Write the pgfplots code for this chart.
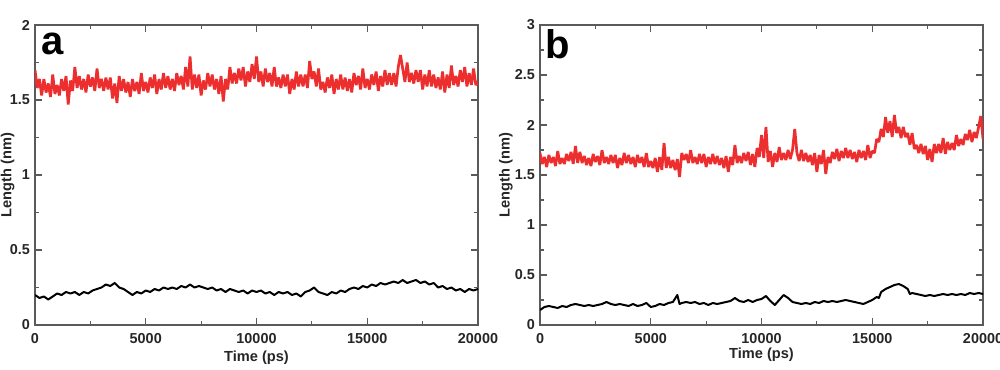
\documentclass[border=0pt]{standalone}
\usepackage{pgfplots}
\pgfplotsset{compat=1.18}
\usepackage{fontspec}
\setmainfont{Liberation Sans}
\definecolor{myred}{RGB}{236,46,46}
\definecolor{axgray}{RGB}{90,90,90}
\pgfplotsset{
  panel/.style={
    scale only axis, width=221.5pt, height=150pt,
    xmin=0, xmax=20000,
    xtick={0,5000,10000,15000,20000},
    minor xtick={2500,7500,12500,17500},
    scaled x ticks=false,
    ymin=0,
    tick align=inside,
    major tick length=3.6pt, minor tick length=2.2pt,
    every tick/.style={axgray, line width=0.6pt},
    axis line style={axgray, line width=0.6pt},
    /pgf/number format/assume math mode=true,
    /pgf/number format/1000 sep={},
    ticklabel style={font=\bfseries\fontsize{7.2}{9}\selectfont, text=black!85},
    xlabel={\bfseries Time (ps)},
    ylabel={\bfseries Length (nm)},
    label style={font=\bfseries\fontsize{7.3}{9}\selectfont, text=black!85},
    xticklabel style={yshift=-0.5pt},
    yticklabel style={xshift=1pt},
  },
  redline/.style={myred, line width=1.35pt, line join=bevel},
  blkline/.style={black, line width=1pt, line join=round},
}
\begin{document}
\begin{tikzpicture}
\path[use as bounding box] (-17.5pt,-22pt) rectangle (482.5pt,162.5pt);
\begin{axis}[panel, at={(0pt,0pt)}, anchor=south west,
  ymax=2, ytick={0,0.5,1,1.5,2}, minor ytick={0.25,0.75,1.25,1.75},
  ylabel style={at={(axis description cs:-0.062,0.5)}, anchor=center},
  xlabel style={at={(axis description cs:0.5,-0.11)}, anchor=center}]
\addplot[redline] coordinates {
(0,1.70)(100,1.58)(200,1.64)(300,1.53)(400,1.64)(500,1.55)(600,1.61)(700,1.52)(800,1.67)(900,1.54)
(1000,1.60)(1100,1.53)(1200,1.64)(1300,1.56)(1400,1.66)(1500,1.47)(1600,1.63)(1700,1.56)(1800,1.72)(1900,1.58)
(2000,1.66)(2100,1.57)(2200,1.64)(2300,1.55)(2400,1.67)(2500,1.59)(2600,1.65)(2700,1.56)(2800,1.71)(2900,1.58)
(3000,1.64)(3100,1.56)(3200,1.65)(3300,1.57)(3400,1.65)(3500,1.51)(3600,1.61)(3700,1.48)(3800,1.66)(3900,1.56)
(4000,1.64)(4100,1.55)(4200,1.62)(4300,1.52)(4400,1.64)(4500,1.56)(4600,1.62)(4700,1.54)(4800,1.68)(4900,1.56)
(5000,1.62)(5100,1.55)(5200,1.65)(5300,1.58)(5400,1.67)(5500,1.54)(5600,1.64)(5700,1.57)(5800,1.68)(5900,1.58)
(6000,1.66)(6100,1.57)(6200,1.64)(6300,1.56)(6400,1.68)(6500,1.60)(6600,1.66)(6700,1.57)(6800,1.72)(6900,1.59)
(7000,1.79)(7100,1.57)(7200,1.67)(7300,1.58)(7400,1.67)(7500,1.53)(7600,1.63)(7700,1.57)(7800,1.68)(7900,1.59)
(8000,1.67)(8100,1.57)(8200,1.64)(8300,1.54)(8400,1.66)(8500,1.49)(8600,1.64)(8700,1.57)(8800,1.72)(8900,1.61)
(9000,1.68)(9100,1.61)(9200,1.71)(9300,1.63)(9400,1.72)(9500,1.59)(9600,1.69)(9700,1.62)(9800,1.74)(9900,1.64)
(10000,1.79)(10100,1.62)(10200,1.69)(10300,1.59)(10400,1.71)(10500,1.62)(10600,1.68)(10700,1.59)(10800,1.72)(10900,1.59)
(11000,1.65)(11100,1.58)(11200,1.67)(11300,1.59)(11400,1.67)(11500,1.54)(11600,1.64)(11700,1.57)(11800,1.69)(11900,1.59)
(12000,1.67)(12100,1.59)(12200,1.67)(12300,1.58)(12400,1.76)(12500,1.64)(12600,1.69)(12700,1.59)(12800,1.71)(12900,1.57)
(13000,1.62)(13100,1.55)(13200,1.65)(13300,1.58)(13400,1.67)(13500,1.54)(13600,1.64)(13700,1.57)(13800,1.67)(13900,1.57)
(14000,1.65)(14100,1.56)(14200,1.64)(14300,1.55)(14400,1.68)(14500,1.60)(14600,1.66)(14700,1.57)(14800,1.71)(14900,1.58)
(15000,1.64)(15100,1.57)(15200,1.67)(15300,1.60)(15400,1.69)(15500,1.56)(15600,1.66)(15700,1.59)(15800,1.70)(15900,1.60)
(16000,1.68)(16100,1.60)(16200,1.68)(16300,1.59)(16400,1.72)(16500,1.80)(16600,1.71)(16700,1.62)(16800,1.75)(16900,1.62)
(17000,1.68)(17100,1.61)(17200,1.70)(17300,1.62)(17400,1.70)(17500,1.57)(17600,1.67)(17700,1.59)(17800,1.70)(17900,1.59)
(18000,1.67)(18100,1.58)(18200,1.65)(18300,1.57)(18400,1.69)(18500,1.55)(18600,1.67)(18700,1.58)(18800,1.73)(18900,1.60)
(19000,1.66)(19100,1.59)(19200,1.70)(19300,1.62)(19400,1.72)(19500,1.59)(19600,1.68)(19700,1.60)(19800,1.71)(19900,1.60)
(20000,1.62)};
\addplot[blkline] coordinates {
(0,0.20)(200,0.18)(400,0.19)(600,0.17)(800,0.19)(1000,0.21)(1200,0.20)(1400,0.22)(1600,0.21)(1800,0.22)
(2000,0.20)(2200,0.22)(2400,0.21)(2600,0.23)(2800,0.24)(3000,0.25)(3200,0.27)(3400,0.26)(3600,0.28)(3800,0.25)
(4000,0.24)(4200,0.22)(4400,0.20)(4600,0.22)(4800,0.21)(5000,0.23)(5200,0.22)(5400,0.24)(5600,0.23)(5800,0.25)
(6000,0.24)(6200,0.25)(6400,0.24)(6600,0.26)(6800,0.25)(7000,0.27)(7200,0.25)(7400,0.26)(7600,0.25)(7800,0.24)
(8000,0.25)(8200,0.23)(8400,0.24)(8600,0.22)(8800,0.24)(9000,0.23)(9200,0.22)(9400,0.23)(9600,0.21)(9800,0.23)
(10000,0.22)(10200,0.23)(10400,0.21)(10600,0.22)(10800,0.20)(11000,0.22)(11200,0.21)(11400,0.22)(11600,0.20)(11800,0.21)
(12000,0.19)(12200,0.22)(12400,0.23)(12600,0.25)(12800,0.22)(13000,0.21)(13200,0.20)(13400,0.22)(13600,0.21)(13800,0.23)
(14000,0.22)(14200,0.24)(14400,0.25)(14600,0.24)(14800,0.26)(15000,0.25)(15200,0.27)(15400,0.26)(15600,0.28)(15800,0.27)
(16000,0.28)(16200,0.29)(16400,0.28)(16600,0.30)(16800,0.28)(17000,0.29)(17200,0.30)(17400,0.28)(17600,0.29)(17800,0.27)
(18000,0.28)(18200,0.25)(18400,0.26)(18600,0.24)(18800,0.25)(19000,0.23)(19200,0.24)(19400,0.22)(19600,0.24)(19800,0.23)
(20000,0.24)};
\node[anchor=base west, font=\bfseries\fontsize{20}{20}\selectfont, inner sep=0pt] at (axis description cs:0.014,0.903) {a};
\end{axis}
\begin{axis}[panel, at={(252.5pt,0pt)}, anchor=south west,
  ymax=3, ytick={0,0.5,1,1.5,2,2.5,3}, minor ytick={0.25,0.75,1.25,1.75,2.25,2.75},
  ylabel style={at={(axis description cs:-0.077,0.5)}, anchor=center},
  xlabel style={at={(axis description cs:0.5,-0.1)}, anchor=center}]
\addplot[redline] coordinates {
(0,1.72)(100,1.61)(200,1.68)(300,1.58)(400,1.70)(500,1.62)(600,1.68)(700,1.59)(800,1.74)(900,1.61)
(1000,1.67)(1100,1.61)(1200,1.71)(1300,1.64)(1400,1.73)(1500,1.61)(1600,1.79)(1700,1.62)(1800,1.73)(1900,1.62)
(2000,1.69)(2100,1.60)(2200,1.67)(2300,1.59)(2400,1.71)(2500,1.63)(2600,1.69)(2700,1.60)(2800,1.75)(2900,1.62)
(3000,1.68)(3100,1.61)(3200,1.70)(3300,1.62)(3400,1.70)(3500,1.57)(3600,1.67)(3700,1.60)(3800,1.72)(3900,1.62)
(4000,1.70)(4100,1.61)(4200,1.68)(4300,1.58)(4400,1.70)(4500,1.62)(4600,1.68)(4700,1.58)(4800,1.72)(4900,1.58)
(5000,1.64)(5100,1.57)(5200,1.67)(5300,1.53)(5400,1.68)(5500,1.55)(5600,1.82)(5700,1.57)(5800,1.68)(5900,1.57)
(6000,1.65)(6100,1.55)(6200,1.66)(6300,1.48)(6400,1.72)(6500,1.65)(6600,1.71)(6700,1.62)(6800,1.75)(6900,1.62)
(7000,1.68)(7100,1.61)(7200,1.71)(7300,1.62)(7400,1.71)(7500,1.58)(7600,1.68)(7700,1.61)(7800,1.71)(7900,1.61)
(8000,1.69)(8100,1.60)(8200,1.67)(8300,1.57)(8400,1.69)(8500,1.53)(8600,1.68)(8700,1.60)(8800,1.80)(8900,1.62)
(9000,1.69)(9100,1.62)(9200,1.72)(9300,1.64)(9400,1.73)(9500,1.60)(9600,1.71)(9700,1.58)(9800,1.77)(9900,1.68)
(10000,1.90)(10100,1.67)(10200,1.98)(10300,1.63)(10400,1.74)(10500,1.58)(10600,1.72)(10700,1.63)(10800,1.78)(10900,1.65)
(11000,1.72)(11100,1.65)(11200,1.75)(11300,1.66)(11400,1.75)(11500,1.96)(11600,1.72)(11700,1.64)(11800,1.75)(11900,1.64)
(12000,1.72)(12100,1.63)(12200,1.70)(12300,1.60)(12400,1.72)(12500,1.53)(12600,1.70)(12700,1.61)(12800,1.75)(12900,1.51)
(13000,1.68)(13100,1.62)(13200,1.73)(13300,1.66)(13400,1.76)(13500,1.64)(13600,1.74)(13700,1.67)(13800,1.77)(13900,1.67)
(14000,1.75)(14100,1.66)(14200,1.73)(14300,1.63)(14400,1.75)(14500,1.67)(14600,1.74)(14700,1.65)(14800,1.80)(14900,1.67)
(15000,1.74)(15100,1.72)(15200,1.86)(15300,1.83)(15400,1.96)(15500,1.88)(15600,2.08)(15700,1.92)(15800,2.04)(15900,1.88)
(16000,2.10)(16100,1.92)(16200,1.98)(16300,1.87)(16400,1.98)(16500,1.88)(16600,1.92)(16700,1.80)(16800,1.92)(16900,1.76)
(17000,1.80)(17100,1.72)(17200,1.81)(17300,1.71)(17400,1.79)(17500,1.65)(17600,1.76)(17700,1.63)(17800,1.81)(17900,1.72)
(18000,1.81)(18100,1.72)(18200,1.87)(18300,1.71)(18400,1.83)(18500,1.75)(18600,1.82)(18700,1.75)(18800,1.90)(18900,1.79)
(19000,1.86)(19100,1.80)(19200,1.91)(19300,1.85)(19400,1.95)(19500,1.83)(19600,1.93)(19700,1.87)(19800,1.98)(19900,2.09)
(20000,1.86)};
\addplot[blkline] coordinates {
(0,0.15)(200,0.18)(400,0.19)(600,0.18)(800,0.17)(1000,0.19)(1200,0.18)(1400,0.20)(1600,0.21)(1800,0.20)
(2000,0.19)(2200,0.20)(2400,0.19)(2600,0.20)(2800,0.21)(3000,0.23)(3200,0.21)(3400,0.20)(3600,0.21)(3800,0.20)
(4000,0.19)(4200,0.21)(4400,0.19)(4600,0.20)(4800,0.22)(5000,0.18)(5200,0.19)(5400,0.21)(5600,0.20)(5800,0.22)
(6000,0.23)(6200,0.30)(6300,0.21)(6400,0.22)(6600,0.23)(6800,0.22)(7000,0.23)(7200,0.21)(7400,0.22)(7600,0.20)(7800,0.22)
(8000,0.21)(8200,0.22)(8400,0.23)(8600,0.24)(8800,0.27)(9000,0.24)(9200,0.23)(9400,0.25)(9600,0.23)(9800,0.25)
(10000,0.26)(10200,0.29)(10400,0.24)(10600,0.20)(10800,0.25)(11000,0.30)(11200,0.27)(11400,0.23)(11600,0.22)(11800,0.21)
(12000,0.22)(12200,0.21)(12400,0.23)(12600,0.22)(12800,0.24)(13000,0.23)(13200,0.24)(13400,0.23)(13600,0.24)(13800,0.25)
(14000,0.24)(14200,0.23)(14400,0.22)(14600,0.21)(14800,0.23)(15000,0.25)(15200,0.28)(15300,0.27)(15400,0.33)(15600,0.36)
(15800,0.38)(16000,0.40)(16200,0.41)(16400,0.39)(16600,0.36)(16700,0.31)(16800,0.32)(17000,0.31)(17200,0.30)(17400,0.29)
(17600,0.30)(17800,0.29)(18000,0.30)(18200,0.31)(18400,0.30)(18600,0.31)(18800,0.30)(19000,0.31)(19200,0.30)(19400,0.32)
(19600,0.31)(19800,0.32)(20000,0.31)};
\node[anchor=base west, font=\bfseries\fontsize{20}{20}\selectfont, inner sep=0pt] at (axis description cs:0.011,0.887) {b};
\end{axis}
\end{tikzpicture}
\end{document}
